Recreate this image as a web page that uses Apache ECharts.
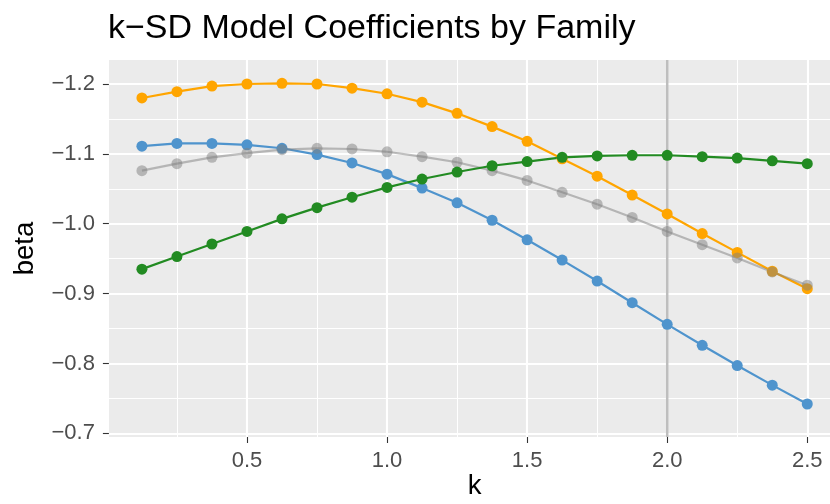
<!DOCTYPE html>
<html><head><meta charset="utf-8">
<script src="https://cdn.jsdelivr.net/npm/echarts@6/dist/echarts.min.js"></script>
<style>html,body{margin:0;padding:0;background:#fff}#c{width:830px;height:504px}</style>
</head><body><div id="c"></div>
<script>
// ---- data ----
const kValues = [0.125,0.25,0.375,0.5,0.625,0.75,0.875,1.0,1.125,1.25,1.375,1.5,1.625,1.75,1.875,2.0,2.125,2.25,2.375,2.5];
const blueBeta   = [-1.111,-1.115,-1.115,-1.113,-1.108,-1.099,-1.087,-1.071,-1.051,-1.030,-1.005,-0.977,-0.948,-0.918,-0.887,-0.856,-0.826,-0.797,-0.769,-0.742];
const orangeBeta = [-1.180,-1.189,-1.197,-1.200,-1.201,-1.200,-1.194,-1.186,-1.174,-1.158,-1.139,-1.118,-1.093,-1.068,-1.041,-1.014,-0.986,-0.959,-0.932,-0.907];
const greyBeta   = [-1.076,-1.086,-1.095,-1.101,-1.106,-1.108,-1.107,-1.103,-1.096,-1.088,-1.076,-1.062,-1.045,-1.028,-1.009,-0.989,-0.970,-0.951,-0.931,-0.912];
const greenBeta  = [-0.935,-0.953,-0.971,-0.989,-1.007,-1.023,-1.038,-1.052,-1.064,-1.074,-1.083,-1.089,-1.095,-1.097,-1.098,-1.098,-1.096,-1.094,-1.090,-1.086];
const xTickLabels = [0.5,1.0,1.5,2.0,2.5];
const yTickLabels = [-1.2,-1.1,-1.0,-0.9,-0.8,-0.7];
const refK = 2.0;
const panelBetaTop = -1.2343, panelBetaBottom = -0.6947;
const titleText = 'k\u2212SD Model Coefficients by Family';

// ---- layout ----
const PXX = 280.15, PXY = 698.7;
const gridLeft = 106.9, gridTop = 84 - 0.1*PXY;
const gridW = 3*PXX, gridH = 0.7*PXY;
const panelBottom = 437;
const FONT = 'Liberation Sans, Arial, sans-serif';

const pair = (ys) => kValues.map((k,i)=>[k, ys[i]]);
const minus = v => (v<0?'\u2212':'') + Math.abs(v).toFixed(1);

function lineSeries(name, ys, color, opacity){
  return {name, type:'line', data: pair(ys), symbol:'circle', symbolSize:11,
    lineStyle:{color, width:2.2, opacity}, itemStyle:{color, opacity},
    emphasis:{disabled:true}};
}

const chart = echarts.init(document.getElementById('c'), null, {renderer:'canvas'});
chart.setOption({
  animation:false,
  backgroundColor:'#fff',
  title:{text:titleText, left:108, top:12, padding:0,
    textStyle:{fontSize:34, fontWeight:'normal', color:'#000', fontFamily:FONT}},
  grid:{left:gridLeft, top:gridTop, width:gridW, height:gridH, containLabel:false, outerBoundsMode:'none'},
  graphic:[
    {type:'rect', z:-10, shape:{x:109, y:60, width:731, height:panelBottom-60}, style:{fill:'#EBEBEB'}},
    {type:'text', x:25.4, y:248.5, rotation:Math.PI/2,
      style:{text:'beta', fontSize:27.5, fontFamily:FONT, fill:'#000', align:'center', verticalAlign:'middle'}},
    {type:'text', x:474.5, y:486.5,
      style:{text:'k', fontSize:27.5, fontFamily:FONT, fill:'#000', align:'center', verticalAlign:'middle'}}
  ],
  xAxis:{type:'value', min:0, max:3, interval:0.5, offset:-(gridTop+gridH-panelBottom),
    axisLine:{show:false},
    axisTick:{show:true, customValues:xTickLabels, length:6, lineStyle:{color:'#333', width:1.1}},
    axisLabel:{customValues:xTickLabels, formatter:v=>v.toFixed(1), color:'#4D4D4D', fontSize:22, fontFamily:FONT, margin:13},
    splitLine:{show:true, lineStyle:{color:'#fff', width:2.1}},
    minorTick:{show:false, splitNumber:2},
    minorSplitLine:{show:true, lineStyle:{color:'#fff', width:1}}
  },
  yAxis:{type:'value', inverse:true, min:-1.3, max:-0.6, interval:0.1, offset:-2,
    axisLine:{show:false},
    axisTick:{show:true, customValues:yTickLabels, length:6, lineStyle:{color:'#333', width:1.1}},
    axisLabel:{customValues:yTickLabels, formatter:minus, color:'#4D4D4D', fontSize:22, fontFamily:FONT, margin:14},
    splitLine:{show:true, lineStyle:{color:'#fff', width:2.1}},
    minorTick:{show:false, splitNumber:2},
    minorSplitLine:{show:true, lineStyle:{color:'#fff', width:1}}
  },
  series:[
    {name:'ref', type:'line', data:[[refK,panelBetaTop],[refK,panelBetaBottom]], symbol:'none',
      lineStyle:{color:'#BEBEBE', width:2.5}, emphasis:{disabled:true}, silent:true},
    lineSeries('blue', blueBeta, '#4F94CD', 1),
    lineSeries('orange', orangeBeta, '#FFA500', 1),
    lineSeries('grey', greyBeta, '#7F7F7F', 0.5),
    lineSeries('green', greenBeta, '#228B22', 1)
  ]
});
</script>
</body></html>
